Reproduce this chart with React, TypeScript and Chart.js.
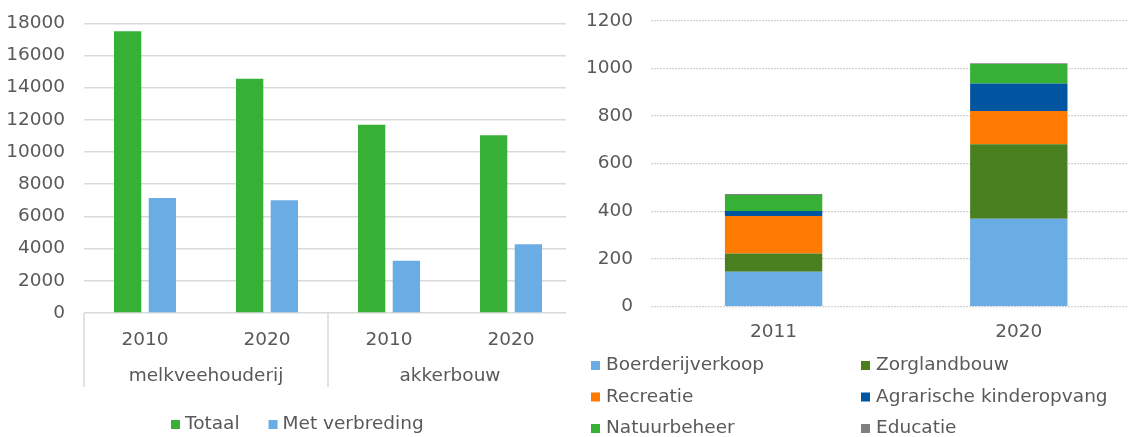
import React, { useEffect, useRef } from "react";
import { Chart, registerables } from "chart.js";

Chart.register(...registerables);

// ---------- Left chart data ----------
const sectors = ["melkveehouderij", "akkerbouw"];
const years = ["2010", "2020", "2010", "2020"];
const totaal = [17500, 14550, 11700, 11050];
const metVerbreding = [7150, 7000, 3250, 4270];
const leftMax = 18000;
const leftStep = 2000;

// ---------- Right chart data ----------
const stackYears = ["2011", "2020"];
const boerderijverkoop = [146, 368];
const zorglandbouw = [77, 313];
const recreatie = [157, 140];
const agrarischeKinderopvang = [21, 115];
const natuurbeheer = [67, 82];
const educatie = [4, 3];
const rightMax = 1200;
const rightStep = 200;

const FONT_FAMILY = "'DejaVu Sans', Verdana, sans-serif";
const FONT_SIZE = 18.5;
const TEXT = "#595959";
const GRID = "#d9d9d9";

const C_GREEN = "#36b136";
const C_LBLUE = "#6aace4";
const C_DGREEN = "#4a7f1f";
const C_ORANGE = "#ff7a00";
const C_DBLUE = "#0054a0";
const C_GRAY = "#808080";

const font = { family: FONT_FAMILY, size: FONT_SIZE };
const plainTick = (v: any) => String(v);

function drawBox(ctx: CanvasRenderingContext2D, x: number, y: number, color: string) {
  ctx.fillStyle = color;
  ctx.fillRect(x, y - 4.5, 9, 9);
}

const leftPlugin = {
  id: "leftExtras",
  afterDraw(chart: any) {
    const ctx: CanvasRenderingContext2D = chart.ctx;
    const x = chart.scales.x;
    const area = chart.chartArea;
    const n = years.length;
    const per = n / sectors.length;
    ctx.save();
    ctx.strokeStyle = GRID;
    ctx.lineWidth = 1.5;
    for (let g = 0; g <= sectors.length; g++) {
      const idx = g * per;
      let px: number;
      if (idx === 0) px = x.left;
      else if (idx === n) px = x.right;
      else px = (x.getPixelForValue(idx - 1) + x.getPixelForValue(idx)) / 2;
      ctx.beginPath();
      ctx.moveTo(px, area.bottom);
      ctx.lineTo(px, area.bottom + 74);
      ctx.stroke();
    }
    ctx.font = `${FONT_SIZE}px ${FONT_FAMILY}`;
    ctx.fillStyle = TEXT;
    ctx.textAlign = "center";
    ctx.textBaseline = "middle";
    sectors.forEach((s, g) => {
      const a = x.getPixelForValue(g * per);
      const b = x.getPixelForValue(g * per + per - 1);
      ctx.fillText(s, (a + b) / 2, area.bottom + 63);
    });
    // legend
    ctx.textAlign = "left";
    let lx = 171;
    const ly = 424.5;
    chart.data.datasets.forEach((ds: any) => {
      drawBox(ctx, lx, ly, ds.backgroundColor);
      ctx.fillStyle = TEXT;
      ctx.fillText(ds.label, lx + 14, ly);
      lx += 14 + ctx.measureText(ds.label).width + 29;
    });
    ctx.restore();
  },
};

const rightPlugin = {
  id: "rightLegend",
  afterDraw(chart: any) {
    const ctx: CanvasRenderingContext2D = chart.ctx;
    ctx.save();
    ctx.font = `${FONT_SIZE}px ${FONT_FAMILY}`;
    ctx.textAlign = "left";
    ctx.textBaseline = "middle";
    const cols = [25, 295];
    const rows = [365.5, 397, 428.5];
    chart.data.datasets.forEach((ds: any, i: number) => {
      const cx = cols[i % 2];
      const cy = rows[Math.floor(i / 2)];
      drawBox(ctx, cx, cy, ds.backgroundColor);
      ctx.fillStyle = TEXT;
      ctx.fillText(ds.label, cx + 15, cy);
    });
    ctx.restore();
  },
};

export default function App() {
  const leftRef = useRef<HTMLCanvasElement | null>(null);
  const rightRef = useRef<HTMLCanvasElement | null>(null);

  useEffect(() => {
    const left = new Chart(leftRef.current as HTMLCanvasElement, {
      type: "bar",
      data: {
        labels: years,
        datasets: [
          {
            label: "Totaal",
            data: totaal,
            backgroundColor: C_GREEN,
            categoryPercentage: 0.569,
            barPercentage: 0.787,
          },
          {
            label: "Met verbreding",
            data: metVerbreding,
            backgroundColor: C_LBLUE,
            categoryPercentage: 0.569,
            barPercentage: 0.787,
          },
        ],
      },
      options: {
        animation: false,
        responsive: false,
        layout: { padding: { top: 23.3, right: 3, left: 0, bottom: 0 } },
        plugins: { legend: { display: false }, tooltip: { enabled: false } },
        scales: {
          x: {
            grid: { display: false, drawTicks: false },
            border: { display: false },
            ticks: { font, color: TEXT, padding: 16, maxRotation: 0, autoSkip: false },
            afterFit: (s: any) => {
              s.height = 437 - 313;
            },
          },
          y: {
            min: 0,
            max: leftMax,
            ticks: { stepSize: leftStep, font, color: TEXT, padding: 19, callback: plainTick },
            grid: { color: GRID, lineWidth: 1.5, drawTicks: false },
            border: { display: false },
            afterFit: (s: any) => {
              s.width = 84;
              s.paddingTop = 0;
              s.paddingBottom = 0;
            },
          },
        },
      } as any,
      plugins: [leftPlugin],
    });

    const right = new Chart(rightRef.current as HTMLCanvasElement, {
      type: "bar",
      data: {
        labels: stackYears,
        datasets: [
          { label: "Boerderijverkoop", data: boerderijverkoop, backgroundColor: C_LBLUE },
          { label: "Zorglandbouw", data: zorglandbouw, backgroundColor: C_DGREEN },
          { label: "Recreatie", data: recreatie, backgroundColor: C_ORANGE },
          { label: "Agrarische kinderopvang", data: agrarischeKinderopvang, backgroundColor: C_DBLUE },
          { label: "Natuurbeheer", data: natuurbeheer, backgroundColor: C_GREEN },
          { label: "Educatie", data: educatie, backgroundColor: C_GRAY },
        ].map((d) => ({ ...d, stack: "s", categoryPercentage: 1, barPercentage: 0.397 })),
      },
      options: {
        animation: false,
        responsive: false,
        layout: { padding: { top: 20.7, right: 14.6, left: 0, bottom: 0 } },
        plugins: { legend: { display: false }, tooltip: { enabled: false } },
        scales: {
          x: {
            stacked: true,
            grid: { display: false, drawTicks: false },
            border: { display: false },
            ticks: { font, color: TEXT, padding: 15, maxRotation: 0, autoSkip: false },
            afterFit: (s: any) => {
              s.height = 437 - 306.5;
            },
          },
          y: {
            stacked: true,
            min: 0,
            max: rightMax,
            ticks: { stepSize: rightStep, font, color: TEXT, padding: 18, callback: plainTick },
            grid: { color: "#d2d2d2", lineWidth: 1.2, drawTicks: false },
            border: { display: false, dash: [2, 1] },
            afterFit: (s: any) => {
              s.width = 85;
              s.paddingTop = 0;
              s.paddingBottom = 0;
            },
          },
        },
      } as any,
      plugins: [rightPlugin],
    });

    return () => {
      left.destroy();
      right.destroy();
    };
  }, []);

  return (
    <div
      style={{
        position: "fixed",
        left: 0,
        top: 0,
        width: 1128,
        height: 437,
        overflow: "hidden",
        background: "#fff",
      }}
    >
      <canvas
        ref={leftRef}
        width={575}
        height={437}
        style={{ position: "absolute", left: 0, top: 0, width: 575, height: 437 }}
      />
      <div
        style={{
          position: "absolute",
          left: 566,
          top: 0,
          width: 590,
          height: 437,
          background: "#fff",
        }}
      >
        <canvas ref={rightRef} width={590} height={437} style={{ width: 590, height: 437, display: "block" }} />
      </div>
    </div>
  );
}
